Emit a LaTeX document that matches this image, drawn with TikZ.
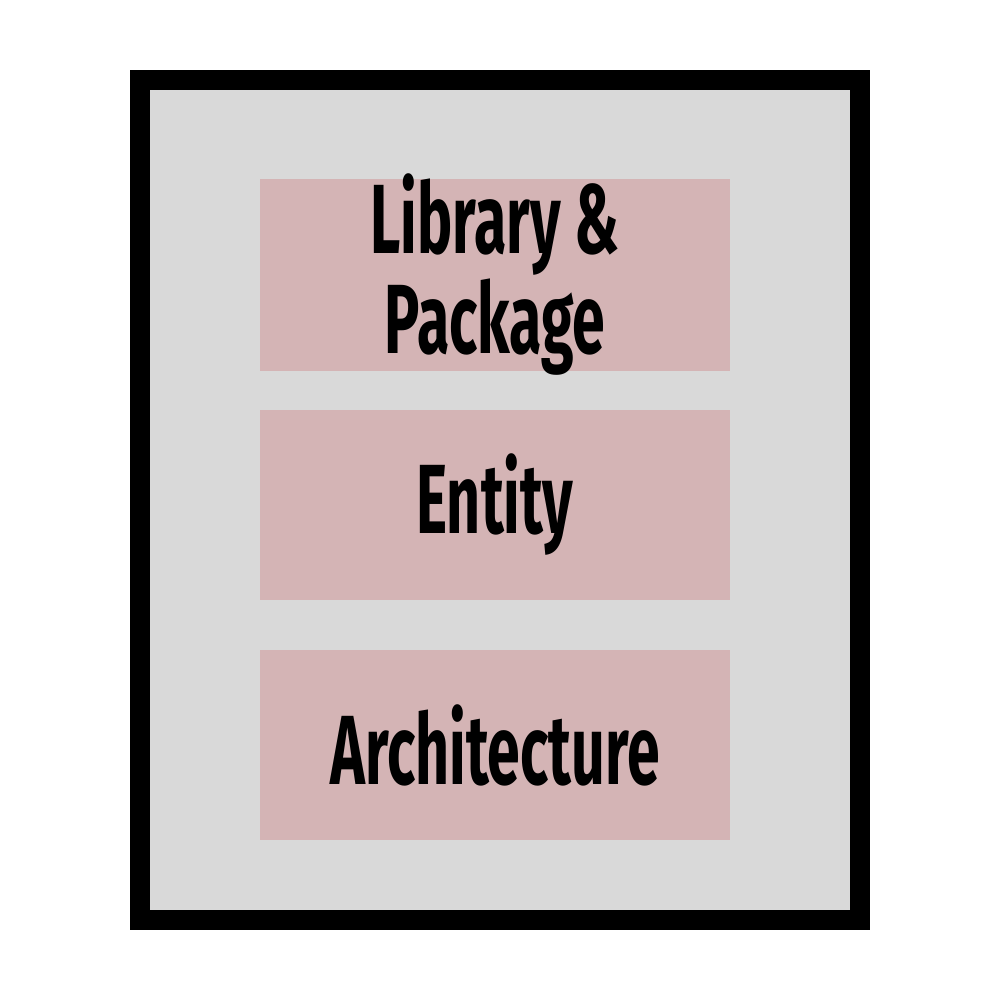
\documentclass[tikz,border=0pt]{standalone}
\usepackage{fontspec}
\setmainfont{Fira Sans}
\newfontfamily\boxfont[FakeStretch=0.6]{Fira Sans}
\definecolor{panelgray}{HTML}{D9D9D9}
\definecolor{layerpink}{HTML}{D4B4B5}
\usetikzlibrary{positioning}

\begin{document}
\begin{tikzpicture}
	\useasboundingbox (0, 0) rectangle (10, 10);
	% frame around the layers
	\node[draw, rectangle, line width=2mm, fill=panelgray, minimum width=72mm, minimum height=84mm, inner sep=0pt] (frame) at (5, 5) {};

	\node[rectangle, minimum width=47mm, minimum height=19mm, inner xsep=0pt, inner ysep=-0.5mm, fill=layerpink, align=center, font=\boxfont\bfseries\fontsize{28}{25}\selectfont] (library) at (4.95, 7.25) {Library \&\\Package};
	\node[rectangle, minimum width=47mm, minimum height=19mm, inner sep=0pt, fill=layerpink, align=center, font=\boxfont\bfseries\fontsize{28}{25}\selectfont] (entity) at (4.95, 4.95) {Entity};
	\node[rectangle, minimum width=47mm, minimum height=19mm, inner sep=0pt, fill=layerpink, align=center, font=\boxfont\bfseries\fontsize{28}{25}\selectfont] (arch) at (4.95, 2.55) {Architecture};
\end{tikzpicture}
\end{document}
